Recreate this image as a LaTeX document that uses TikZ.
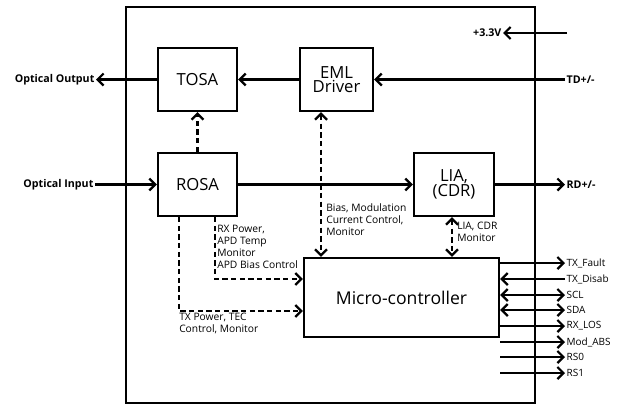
\documentclass[tikz,border=0pt]{standalone}
\usepackage{fontspec}
\setmainfont{Open Sans}
\usepackage{tikz}
\usetikzlibrary{positioning,arrows.meta}

\tikzset{
  blk/.style={draw,line width=1.7pt,inner sep=0pt,align=center,font=\fontsize{12.5}{14}\selectfont},
  arr/.style={line width=1.7pt,-{Straight Barb[length=4.5pt,width=9pt,line width=1.7pt]}},
  dblarr/.style={arr,{Straight Barb[length=4.5pt,width=9pt,line width=1.7pt]}-{Straight Barb[length=4.5pt,width=9pt,line width=1.7pt]}},
  dasharr/.style={arr,dash pattern=on 4pt off 2.5pt},
  dashdbl/.style={dblarr,dash pattern=on 4pt off 2.5pt},
  pinlbl/.style={inner sep=1pt,font=\fontsize{8}{9}\selectfont\bfseries},
  siglbl/.style={inner sep=1pt,anchor=west,font=\fontsize{7.5}{9}\selectfont},
  notelbl/.style={inner sep=0pt,anchor=north west,align=left,font=\fontsize{7.7}{9}\selectfont}
}

\begin{document}
\begin{tikzpicture}[x=0.75pt,y=0.75pt,yscale=-1,xscale=1]
        \useasboundingbox (0,0) rectangle (624,405);

        %Shape: Rectangle [module outline]
        \draw[line width=1.7pt] (126,7) rectangle (535,403);

        %Blocks
        \node[blk,minimum width=59.25pt,minimum height=47.25pt] (tosa) at (197.5,79.5) {TOSA};
        \node[blk,minimum width=59.25pt,minimum height=47.25pt] (rosa) at (197.5,184.5) {ROSA};
        \node[blk,minimum width=54.75pt,minimum height=47.25pt] (eml) at (336.5,79.5) {EML\\[-3pt]Driver};
        \node[blk,minimum width=60pt,minimum height=47.25pt] (lia) at (454,184.5) {LIA,\\[-3pt](CDR)};
        \node[blk,minimum width=146.25pt,minimum height=59.25pt,font=\fontsize{13.2}{15}\selectfont] (micro) at (401.5,297.5) {Micro-controller};

        % Outside pins
        \node[pinlbl,anchor=east] (optout) at (96,79.5) {Optical Output};
        \node[pinlbl,anchor=east] (optin) at (95,184.5) {Optical Input};
        \node[pinlbl,anchor=east] (vcc) at (503,33) {+3.3V};
        \coordinate (vccin) at (567,33);
        \node[pinlbl,anchor=west] (td) at (565,79.5) {TD+/-};
        \node[pinlbl,anchor=west] (rd) at (565,184.5) {RD+/-};

        % Signal paths
        \draw[arr] (tosa) -- (optout);
        \draw[arr] (optin) -- (rosa);
        \draw[arr] (eml) -- (tosa);
        \draw[arr] (td) -- (eml);
        \draw[arr] (vccin) -- (vcc);
        \draw[arr] (rosa) -- (lia);
        \draw[arr] (lia) -- (rd);
        \draw[dasharr] (rosa) -- (tosa);

        % Control paths
        \draw[dashdbl] (eml.south -| 321,0) -- (micro.north -| 321,0);
        \draw[dashdbl] (lia.south -| 452,0) -- (micro.north -| 452,0);
        \draw[dasharr] (rosa.south -| 215,0) |- (micro.west |- 0,279);
        \draw[dasharr] (rosa.south -| 179,0) |- (micro.west |- 0,311);

        % Text Node
        \node[notelbl] (biasnote) at (326,203) {Bias, Modulation\\Current Control,\\Monitor};
        \node[notelbl] (lianote) at (457,222) {LIA, CDR\\Monitor};
        \node[notelbl] (rxnote) at (217,225) {RX Power,\\APD Temp\\Monitor\\APD Bias Control};
        \node[notelbl] (txnote) at (179,313) {TX Power, TEC\\Control, Monitor};

        % Management pins
        \node[siglbl] (txfault) at (565,263) {TX\_Fault};
        \node[siglbl] (txdis) at (565,279) {TX\_Disab};
        \node[siglbl] (scl) at (565,295) {SCL};
        \node[siglbl] (sda) at (565,310) {SDA};
        \node[siglbl] (rxlos) at (565,326) {RX\_LOS};
        \node[siglbl] (modabs) at (565,342) {Mod\_ABS};
        \node[siglbl] (rs0) at (565,357) {RS0};
        \node[siglbl] (rs1) at (565,373) {RS1};

        \draw[arr] (micro.east |- txfault) -- (txfault);
        \draw[arr] (txdis) -- (micro.east |- txdis);
        \draw[dblarr] (micro.east |- scl) -- (scl);
        \draw[dblarr] (micro.east |- sda) -- (sda);
        \draw[arr] (micro.east |- rxlos) -- (rxlos);
        \draw[arr] (micro.east |- modabs) -- (modabs);
        \draw[arr] (micro.east |- rs0) -- (rs0);
        \draw[arr] (micro.east |- rs1) -- (rs1);
\end{tikzpicture}
\end{document}
